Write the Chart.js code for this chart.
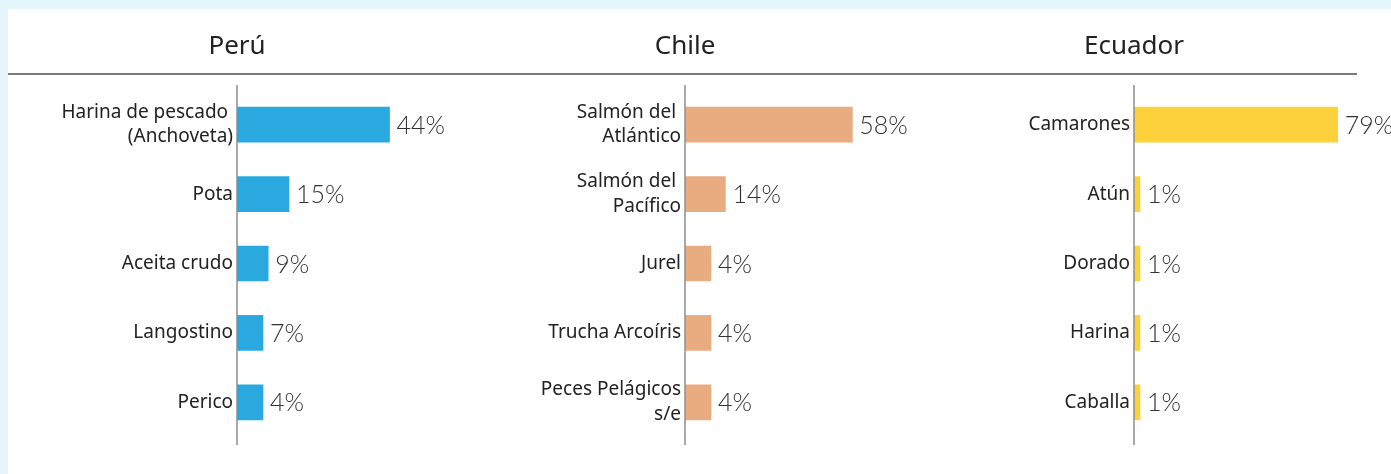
<!DOCTYPE html>
<html>
<head>
<meta charset="utf-8">
<script src="https://cdn.jsdelivr.net/npm/chart.js@4/dist/chart.umd.min.js"></script>
<style>
  html, body { margin: 0; padding: 0; }
  body { width: 1391px; height: 474px; background: #e4f5fc; position: relative; overflow: hidden; }
  #panel { position: absolute; left: 8px; top: 9px; right: 0; bottom: 0; background: #fff; }
  #rule { position: absolute; left: 8px; top: 73px; width: 1349px; height: 2px; background: #7a7a7a; }
  canvas { position: absolute; top: 0; }
</style>
</head>
<body>
<div id="panel"></div>
<div id="rule"></div>
<canvas id="peru" style="left:8px"></canvas>
<canvas id="chile" style="left:455px"></canvas>
<canvas id="ecuador" style="left:904px"></canvas>
<script>
// data
const peruLabels = [["Harina de pescado ", "(Anchoveta)"], "Pota", "Aceita crudo", "Langostino", "Perico"];
const peruValues = [44, 15, 9, 7, 4];

const chileLabels = [["Salmón del ", "Atlántico"], ["Salmón del ", "Pacífico"], "Jurel", "Trucha Arcoíris", ["Peces Pelágicos", "s/e"]];
const chileValues = [58, 14, 4, 4, 4];

const ecuadorLabels = ["Camarones", "Atún", "Dorado", "Harina", "Caballa"];
const ecuadorValues = [79, 1, 1, 1, 1];

const panels = [
  { id: "peru", title: "Perú", labels: peruLabels, values: peruValues, color: "#29a9e0", max: 60, width: 447, axisW: 229, padR: 10, minBar: 26 },
  { id: "chile", title: "Chile", labels: chileLabels, values: chileValues, color: "#e9ab80", max: 70, width: 470, axisW: 230, padR: 38, minBar: 26 },
  { id: "ecuador", title: "Ecuador", labels: ecuadorLabels, values: ecuadorValues, color: "#fdd13b", max: 90, width: 487, axisW: 230, padR: 25, minBar: 6 }
];

const FONT = "'Noto Sans', 'DejaVu Sans', sans-serif";

const decor = {
  id: "decor",
  afterDatasetsDraw(chart, args, opts) {
    const ctx = chart.ctx;
    const area = chart.chartArea;
    ctx.save();
    // title, centred over the axis
    ctx.fillStyle = "#222";
    ctx.font = "400 26px " + FONT;
    ctx.textAlign = "center";
    ctx.textBaseline = "alphabetic";
    ctx.fillText(opts.title, area.left, 54);
    // axis line
    ctx.strokeStyle = "#8c8c8c";
    ctx.lineWidth = 1.5;
    ctx.beginPath();
    ctx.moveTo(area.left, 85);
    ctx.lineTo(area.left, 445);
    ctx.stroke();
    // value labels
    ctx.fillStyle = "#333";
    ctx.font = "300 25px Lato, " + FONT;
    ctx.textAlign = "left";
    ctx.textBaseline = "middle";
    const meta = chart.getDatasetMeta(0);
    meta.data.forEach((bar, i) => {
      ctx.fillText(chart.data.datasets[0].data[i] + "%", bar.x + 7, bar.y + 1);
    });
    ctx.restore();
  }
};

panels.forEach(p => {
  const cv = document.getElementById(p.id);
  cv.width = p.width;
  cv.height = 474;
  cv.style.width = p.width + "px";
  cv.style.height = "474px";
  new Chart(cv.getContext("2d"), {
    type: "bar",
    data: {
      labels: p.labels,
      datasets: [{
        data: p.values,
        backgroundColor: p.color,
        barThickness: 35,
        minBarLength: p.minBar
      }]
    },
    options: {
      indexAxis: "y",
      responsive: false,
      animation: false,
      layout: { padding: { top: 90, bottom: 37, left: 0, right: p.padR } },
      plugins: {
        legend: { display: false },
        tooltip: { enabled: false },
        decor: { title: p.title }
      },
      scales: {
        x: { display: false, min: 0, max: p.max },
        y: {
          grid: { display: false, drawTicks: false },
          border: { display: false },
          ticks: {
            color: "#222",
            padding: 4,
            font: { family: FONT, size: 19, lineHeight: 1.3 }
          },
          afterFit(scale) { scale.width = p.axisW; }
        }
      }
    },
    plugins: [decor]
  });
});
</script>
</body>
</html>
